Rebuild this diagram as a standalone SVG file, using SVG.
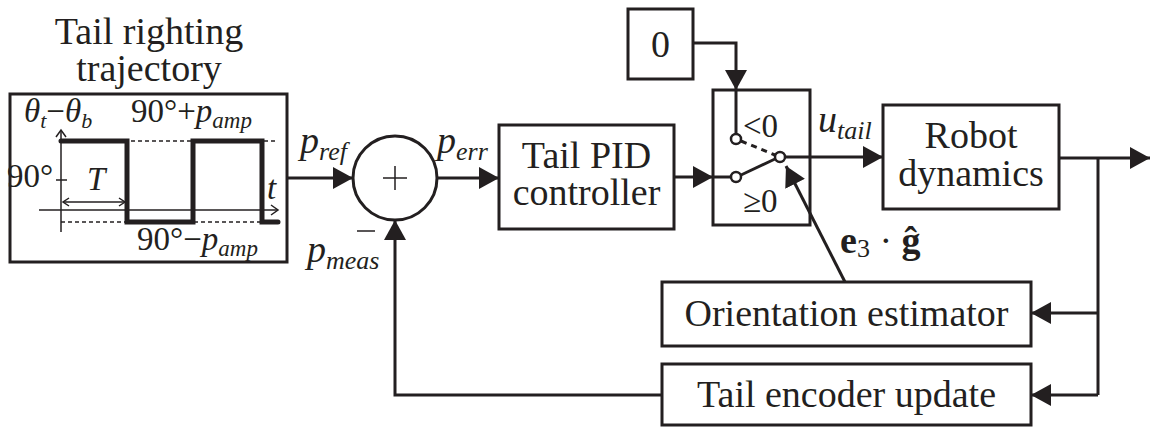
<svg xmlns="http://www.w3.org/2000/svg" width="1151" height="427" viewBox="0 0 1151 427">
<defs>
<marker id="ah" markerUnits="userSpaceOnUse" markerWidth="20" markerHeight="22" refX="20" refY="11" orient="auto">
<path d="M0,0 L20,11 L0,22 z" fill="#231f20"/>
</marker>
</defs>

<g id="title" font-family="Liberation Serif, serif" font-size="38" fill="#231f20" text-anchor="middle">
<text style="font-family:'Liberation Serif', serif !important" x="149" y="44">Tail righting</text>
<text style="font-family:'Liberation Serif', serif !important" x="149" y="81">trajectory</text>
</g>

<g id="trajectory">
<rect x="10" y="94" width="277" height="168" fill="#fff" stroke="#231f20" stroke-width="3"/>
<g fill="none" stroke="#231f20" stroke-width="1.5">
<line x1="61" y1="232" x2="61" y2="131"/>
<path d="M56,137 L61,130 L66,137"/>
<line x1="39" y1="210" x2="277" y2="210"/>
<path d="M271,205 L278,210 L271,215"/>
<line x1="61" y1="141" x2="278" y2="141" stroke-dasharray="4 3"/>
<line x1="61" y1="222" x2="278" y2="222" stroke-dasharray="4 3"/>
<line x1="56" y1="180" x2="67" y2="180"/>
<line x1="63" y1="202" x2="125" y2="202"/>
<path d="M69,198 L63,202 L69,206 M119,198 L125,202 L119,206"/>
</g>
<path d="M61,141 H127 V222 H193 V141 H262 V222 H278" fill="none" stroke="#231f20" stroke-width="5" stroke-linecap="round"/>
<g font-family="Liberation Serif, serif" font-size="33" fill="#231f20">
<text style="font-family:'Liberation Serif', serif !important" x="24" y="122"><tspan font-style="italic">θ</tspan><tspan font-style="italic" font-size="22" dy="6">t</tspan><tspan dy="-6">−</tspan><tspan font-style="italic">θ</tspan><tspan font-style="italic" font-size="22" dy="6">b</tspan></text>
<text style="font-family:'Liberation Serif', serif !important" x="131" y="122">90°+<tspan font-style="italic">p</tspan><tspan font-style="italic" font-size="23" dy="6">amp</tspan></text>
<text style="font-family:'Liberation Serif', serif !important" x="7" y="187">90°</text>
<text style="font-family:'Liberation Serif', serif !important" font-style="italic" x="87" y="190">T</text>
<text style="font-family:'Liberation Serif', serif !important" font-style="italic" x="267" y="199">t</text>
<text style="font-family:'Liberation Serif', serif !important" x="137" y="250">90°−<tspan font-style="italic">p</tspan><tspan font-style="italic" font-size="23" dy="6">amp</tspan></text>
</g>
</g>

<g id="sum">
<circle cx="395" cy="178" r="42" fill="#fff" stroke="#231f20" stroke-width="3"/>
<path d="M383,178 H407 M395,166 V190 M357,231 H375" fill="none" stroke="#231f20" stroke-width="1.5"/>
</g>

<g id="pid" font-family="Liberation Serif, serif" font-size="38" fill="#231f20" text-anchor="middle">
<rect x="499" y="125" width="175" height="104" fill="#fff" stroke="#231f20" stroke-width="3"/>
<text style="font-family:'Liberation Serif', serif !important" x="586.5" y="168">Tail PID</text>
<text style="font-family:'Liberation Serif', serif !important" x="586.5" y="205">controller</text>
</g>

<g id="zero" font-family="Liberation Serif, serif" font-size="38" fill="#231f20" text-anchor="middle">
<rect x="628" y="9" width="65" height="70" fill="#fff" stroke="#231f20" stroke-width="3"/>
<text style="font-family:'Liberation Serif', serif !important" x="660.5" y="57">0</text>
</g>

<g id="switch">
<rect x="713" y="90" width="97" height="135" fill="#fff" stroke="#231f20" stroke-width="3"/>
<g fill="none" stroke="#231f20" stroke-width="3">
<line x1="736" y1="90" x2="736" y2="134"/>
<line x1="713" y1="177" x2="731" y2="177"/>
<line x1="741" y1="175" x2="775" y2="159"/>
<line x1="741" y1="141" x2="775" y2="155" stroke-dasharray="6 5"/>
</g>
<g fill="#fff" stroke="#231f20" stroke-width="2.5">
<circle cx="736" cy="139" r="5"/>
<circle cx="736" cy="177" r="5"/>
<circle cx="780" cy="157" r="5"/>
</g>
<g font-family="Liberation Serif, serif" font-size="33" fill="#231f20">
<text style="font-family:'Liberation Serif', serif !important" x="743" y="137">&lt;0</text>
<text style="font-family:'Liberation Serif', serif !important" x="743" y="212">≥0</text>
</g>
</g>

<g id="robot" font-family="Liberation Serif, serif" font-size="38" fill="#231f20" text-anchor="middle">
<rect x="883" y="105" width="176" height="104" fill="#fff" stroke="#231f20" stroke-width="3"/>
<text style="font-family:'Liberation Serif', serif !important" x="971" y="148">Robot</text>
<text style="font-family:'Liberation Serif', serif !important" x="971" y="186">dynamics</text>
</g>

<g id="orient" font-family="Liberation Serif, serif" font-size="38" fill="#231f20" text-anchor="middle">
<rect x="662" y="282" width="369" height="64" fill="#fff" stroke="#231f20" stroke-width="3"/>
<text style="font-family:'Liberation Serif', serif !important" x="846.5" y="326">Orientation estimator</text>
</g>

<g id="encoder" font-family="Liberation Serif, serif" font-size="38" fill="#231f20" text-anchor="middle">
<rect x="662" y="364" width="369" height="61" fill="#fff" stroke="#231f20" stroke-width="3"/>
<text style="font-family:'Liberation Serif', serif !important" x="846.5" y="407">Tail encoder update</text>
</g>

<g id="connectors" fill="none" stroke="#231f20" stroke-width="3">
<line x1="287" y1="178" x2="353" y2="178" marker-end="url(#ah)"/>
<line x1="437" y1="178" x2="499" y2="178" marker-end="url(#ah)"/>
<line x1="674" y1="177" x2="713" y2="177" marker-end="url(#ah)"/>
<polyline points="693,43 736,43 736,90" marker-end="url(#ah)"/>
<line x1="785" y1="157" x2="883" y2="157" marker-end="url(#ah)"/>
<line x1="1059" y1="158" x2="1150" y2="158" marker-end="url(#ah)"/>
<polyline points="1098,158 1098,395"/>
<line x1="1098" y1="313" x2="1031" y2="313" marker-end="url(#ah)"/>
<line x1="1098" y1="395" x2="1031" y2="395" marker-end="url(#ah)"/>
<polyline points="662,395 395,395 395,220" marker-end="url(#ah)"/>
<line x1="845" y1="282" x2="786" y2="166" marker-end="url(#ah)"/>
</g>

<g id="labels" font-family="Liberation Serif, serif" font-size="38" fill="#231f20">
<text style="font-family:'Liberation Serif', serif !important" x="300" y="153"><tspan font-style="italic">p</tspan><tspan font-style="italic" font-size="26" dy="7">ref</tspan></text>
<text style="font-family:'Liberation Serif', serif !important" x="437" y="153"><tspan font-style="italic">p</tspan><tspan font-style="italic" font-size="26" dy="7">err</tspan></text>
<text style="font-family:'Liberation Serif', serif !important" x="818" y="132"><tspan font-style="italic">u</tspan><tspan font-style="italic" font-size="26" dy="7">tail</tspan></text>
<text style="font-family:'Liberation Serif', serif !important" x="307" y="262"><tspan font-style="italic">p</tspan><tspan font-style="italic" font-size="26" dy="7">meas</tspan></text>
<text style="font-family:'Liberation Serif', serif !important" x="840" y="253"><tspan font-weight="bold">e</tspan><tspan font-size="26" dy="4">3</tspan><tspan dy="-4"> · </tspan><tspan font-weight="bold">ĝ</tspan></text>
</g>
</svg>
